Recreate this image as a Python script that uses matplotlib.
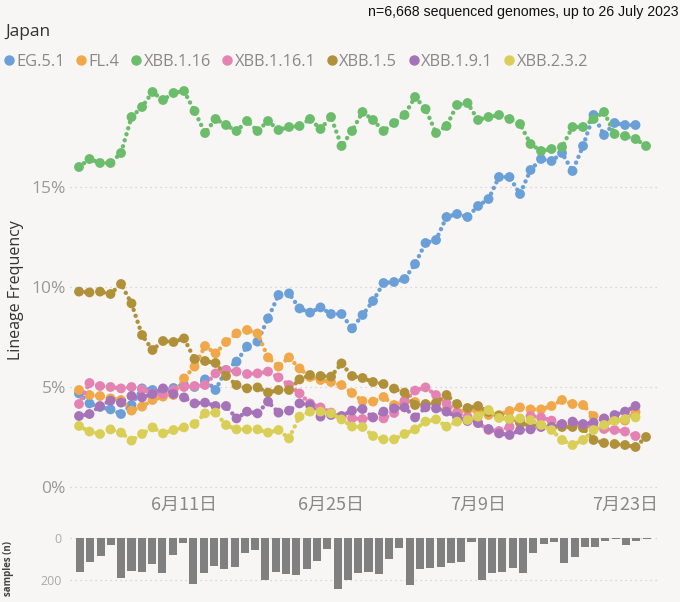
import numpy as np
import pandas as pd
import matplotlib
matplotlib.use('Agg')
import matplotlib.pyplot as plt
import matplotlib.dates as mdates
from matplotlib.lines import Line2D

# daily lineage frequencies (%) starting 1 June 2023
start = pd.Timestamp('2023-06-01')

eg_5_1 = [4.68, 4.18, 4.0, 3.88, 3.65, 4.1, 4.93, 4.85, 4.85, 4.95,
          5.1, 5.0, 5.38, 4.85, 5.85, 6.27, 7.02, 7.27, 8.43, 9.6,
          9.68, 8.93, 8.72, 8.98, 8.65, 8.65, 7.93, 8.6, 9.3, 10.2,
          10.25, 10.4, 11.15, 12.2, 12.35, 13.5, 13.65, 13.5, 14.05, 14.4,
          15.5, 15.5, 14.65, 15.85, 16.4, 16.3, 16.7, 15.8, 17.05, 18.6,
          17.6, 18.2, 18.1, 18.1]
fl_4 = [4.85, 4.6, 4.55, 4.43, 4.35, 3.82, 4.02, 4.35, 4.52, 4.6,
        5.43, 6.02, 7.05, 6.68, 7.25, 7.68, 7.85, 7.68, 6.48, 6.02,
        6.48, 5.93, 5.5, 5.35, 5.25, 5.1, 4.7, 4.3, 4.27, 4.5,
        4.1, 4.3, 4.25, 4.0, 4.2, 3.8, 3.75, 3.85, 3.8, 3.6,
        3.6, 3.8, 3.98, 3.88, 3.88, 4.05, 4.35, 4.15, 4.1, 3.55,
        3.4, 3.35, 3.32, 3.75]
xbb_1_16 = [16.0, 16.4, 16.2, 16.2, 16.7, 18.5, 19.0, 19.75, 19.35, 19.7,
            19.8, 18.8, 17.7, 18.4, 18.1, 17.8, 18.3, 17.8, 18.3, 17.85,
            18.0, 18.05, 18.4, 17.9, 18.5, 17.05, 17.8, 18.75, 18.35, 17.8,
            18.2, 18.6, 19.5, 18.9, 17.7, 18.05, 19.1, 19.2, 18.35, 18.5,
            18.6, 18.4, 18.15, 17.15, 16.8, 16.9, 17.0, 18.0, 18.0, 18.4,
            18.75, 17.65, 17.55, 17.4, 17.05]
xbb_1_16_1 = [4.15, 5.2, 5.05, 5.0, 4.93, 5.0, 4.88, 4.68, 4.65, 4.85,
              5.0, 5.05, 5.1, 5.68, 5.85, 5.77, 5.65, 5.68, 5.77, 5.48,
              5.1, 4.68, 4.18, 3.98, 3.72, 3.52, 3.43, 3.4, 3.48, 3.43,
              3.7, 4.3, 4.82, 4.98, 4.6, 4.18, 3.7, 3.5, 3.2, 2.85,
              2.8, 3.0, 3.3, 3.55, 3.48, 3.32, 3.13, 3.13, 3.1, 3.0,
              2.9, 2.85, 2.77, 2.55]
xbb_1_5 = [9.77, 9.73, 9.77, 9.65, 10.15, 9.18, 7.6, 6.85, 7.3, 7.25,
           7.43, 6.4, 6.3, 6.2, 5.55, 5.1, 4.93, 4.98, 4.72, 4.85,
           4.85, 5.38, 5.6, 5.55, 5.52, 6.18, 5.55, 5.45, 5.25, 5.15,
           4.92, 4.72, 4.1, 4.15, 4.2, 4.6, 4.15, 3.95, 4.05, 3.75,
           3.55, 3.4, 3.2, 3.05, 3.1, 3.0, 3.0, 3.0, 2.95, 2.35,
           2.2, 2.15, 2.1, 2.0, 2.5]
xbb_1_9_1 = [3.55, 3.65, 4.05, 4.32, 4.22, 4.55, 4.48, 4.65, 4.93, 4.65,
             4.48, 4.18, 4.22, 4.05, 4.05, 3.43, 3.77, 3.68, 4.27, 3.72,
             3.82, 4.18, 4.1, 3.52, 3.6, 3.55, 3.82, 3.9, 3.48, 3.77,
             3.93, 3.98, 3.48, 3.98, 3.93, 3.77, 3.5, 3.3, 3.2, 2.9,
             2.68, 2.6, 2.85, 2.88, 3.0, 3.0, 3.15, 3.27, 3.15, 3.22,
             3.43, 3.6, 3.77, 4.05]
xbb_2_3_2 = [3.05, 2.77, 2.65, 2.88, 2.72, 2.32, 2.65, 2.98, 2.68, 2.85,
             2.98, 3.15, 3.68, 3.72, 3.1, 2.88, 2.88, 2.88, 2.72, 2.85,
             2.43, 3.52, 3.77, 3.77, 3.68, 3.38, 3.02, 3.0, 2.55, 2.38,
             2.38, 2.65, 2.88, 3.27, 3.38, 3.02, 3.27, 3.35, 3.52, 3.85,
             3.45, 3.4, 3.43, 3.35, 3.1, 2.85, 2.35, 2.1, 2.35, 2.85,
             3.1, 3.3, 3.4, 3.48]

samples = [162, 115, 88, 32, 192, 157, 163, 125, 165, 82,
           23, 218, 165, 131, 148, 138, 72, 55, 202, 163,
           172, 178, 148, 109, 51, 242, 202, 166, 160, 171,
           98, 49, 226, 146, 142, 138, 120, 114, 20, 198,
           165, 162, 145, 168, 69, 28, 20, 117, 92, 45,
           42, 12, 6, 32, 12, 6]

lineages = ['EG.5.1', 'FL.4', 'XBB.1.16', 'XBB.1.16.1', 'XBB.1.5', 'XBB.1.9.1', 'XBB.2.3.2']
series = [eg_5_1, fl_4, xbb_1_16, xbb_1_16_1, xbb_1_5, xbb_1_9_1, xbb_2_3_2]
colors = ['#6a9fd8', '#f0a84a', '#6bbd6b', '#e483b3', '#b0913a', '#a673b8', '#d9cf57']
tick_dates = ['2023-06-11', '2023-06-25', '2023-07-09', '2023-07-23']

bg = '#f8f5f5'
dates = pd.date_range(start, periods=len(samples))
x = mdates.date2num(dates)
x0 = mdates.date2num(start)

fig = plt.figure(figsize=(6.8, 6.02), dpi=100, facecolor=bg)
ax = fig.add_axes([70/680, 110/602, 588/680, 410/602], facecolor=bg)

for i, (vals, c) in enumerate(zip(series, colors)):
    n = len(vals)
    ax.plot(x[:n], vals, color=c, lw=3.2, linestyle=(0, (0.01, 1.4)),
            dash_capstyle='round', zorder=2 + 2*i)
    ax.scatter(x[:n], vals, s=50, color=c, edgecolors='none', zorder=3 + 2*i)

ax.set_xlim(x0 - 0.857, x0 + 55.14)
ax.set_ylim(-0.25, 20.25)
ax.set_yticks([0, 5, 10, 15])
ax.set_yticklabels(['0%', '5%', '10%', '15%'], fontsize=12.5, color='#999999', family='Open Sans')
tk = mdates.date2num(pd.to_datetime(tick_dates))
ax.set_xticks(tk)
ax.set_xticklabels([f'{d.month}月{d.day}日' for d in pd.to_datetime(tick_dates)],
                   fontsize=13, color='#888888', family=['Noto Sans CJK JP', 'DejaVu Sans'])
ax.tick_params(length=0, pad=3)
ax.grid(axis='y', color='#d0cccc', linestyle=(0, (1, 3)), lw=0.9)
for s in ax.spines.values():
    s.set_visible(False)

# sample counts
ax2 = fig.add_axes([70/680, 4/602, 588/680, 65/602], facecolor=bg)
ax2.bar(x, samples, width=0.78, color='#808080', zorder=2)
ax2.set_xlim(x0 - 0.97, x0 + 56.1)
ax2.set_ylim(286, -24)
ax2.set_yticks([0, 200])
ax2.set_yticklabels(['0', '200'], fontsize=9, color='#aaaaaa', family='Open Sans')
ax2.set_xticks([])
ax2.tick_params(length=0, pad=6)
ax2.grid(axis='y', color='#d0cccc', linestyle=(0, (1, 3)), lw=0.9)
for s in ax2.spines.values():
    s.set_visible(False)
fig.text(9/680, 1 - 568/602, 'samples (n)', rotation=90, fontsize=7, fontweight='bold',
         color='#444444', ha='center', va='center', family='Open Sans')

fig.text(16/680, 1 - 290/602, 'Lineage Frequency', rotation=90, fontsize=11.5,
         color='#333333', ha='center', va='center', family='Open Sans')
fig.text(5/680, 1 - 32/602, 'Japan', fontsize=12.5, color='#333333', va='center', family='Open Sans')
fig.text(679/680, 1 - 12/602, 'n=6,668 sequenced genomes, up to 26 July 2023', fontsize=10.2,
         color='#111111', va='center', ha='right', family='Liberation Sans')

handles = [Line2D([], [], marker='o', ls='none', color=c, markersize=6.5) for c in colors]
fig.legend(handles, lineages, loc='center left', bbox_to_anchor=(0, 1 - 62/602), ncol=7,
           frameon=False, handlelength=0.5, handletextpad=0.2, columnspacing=0.75,
           borderpad=0, borderaxespad=0.3,
           prop={'family': 'Open Sans', 'size': 11.8}, labelcolor='#888888')

plt.savefig('out.png', dpi=100, facecolor=bg)
